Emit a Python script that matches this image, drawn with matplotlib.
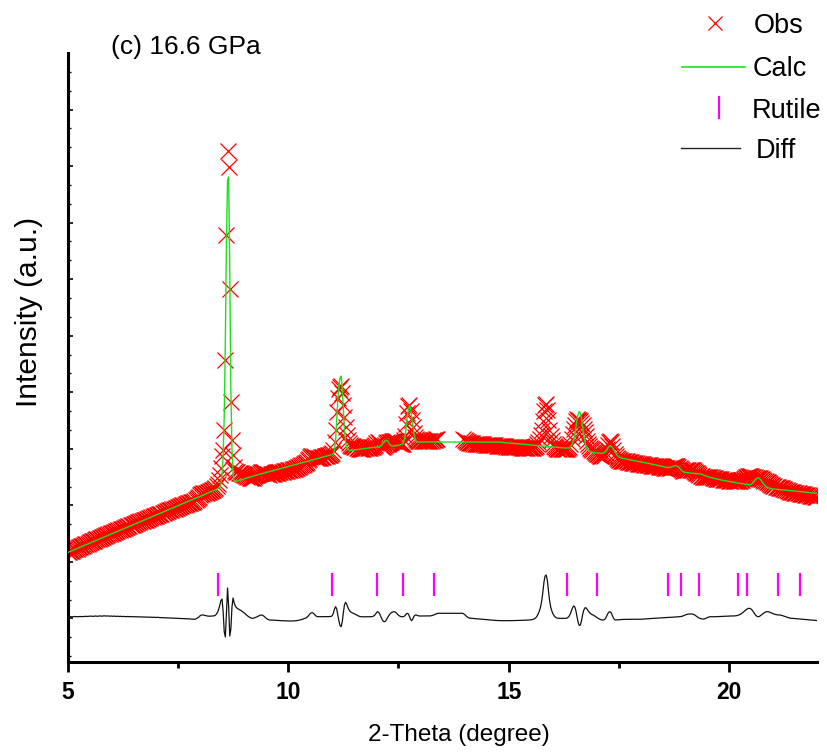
import numpy as np
import matplotlib
matplotlib.use("Agg")
import matplotlib.pyplot as plt
from matplotlib.ticker import MultipleLocator
from matplotlib.lines import Line2D

plt.rcParams['font.family'] = ['Liberation Sans', 'DejaVu Sans']

# ---------------------------------------------------------------------------
# Refinement data: 2-theta grid (start, step), calculated profile and the
# observed-minus-calculated residual (arbitrary intensity units).
# ---------------------------------------------------------------------------
two_theta_start = 5.0
two_theta_step = 0.025

calc = [
    122.5, 123.0, 123.4, 123.9, 124.4, 124.8, 125.3, 125.8, 126.2, 126.7, 127.2, 127.6, 128.1, 128.6, 129.0, 129.5, 130.0, 130.4, 130.9, 131.4,
    131.9, 132.3, 132.8, 133.3, 133.7, 134.2, 134.7, 135.1, 135.6, 136.1, 136.5, 137.0, 137.5, 137.9, 138.4, 138.9, 139.3, 139.8, 140.3, 140.7,
    141.2, 141.7, 142.1, 142.6, 143.1, 143.5, 144.0, 144.5, 144.9, 145.4, 145.9, 146.3, 146.8, 147.3, 147.7, 148.2, 148.7, 149.1, 149.6, 150.1,
    150.6, 151.0, 151.5, 152.0, 152.4, 152.9, 153.4, 153.8, 154.3, 154.8, 155.2, 155.7, 156.2, 156.6, 157.1, 157.6, 158.0, 158.5, 159.0, 159.4,
    159.9, 160.4, 160.8, 161.3, 161.8, 162.2, 162.7, 163.2, 163.6, 164.1, 164.6, 165.0, 165.5, 166.0, 166.4, 166.9, 167.4, 167.8, 168.3, 168.8,
    169.3, 169.7, 170.2, 170.7, 171.1, 171.6, 172.1, 172.5, 173.0, 173.5, 173.9, 174.4, 174.9, 175.3, 175.8, 176.3, 176.7, 177.2, 177.7, 178.1,
    178.6, 179.1, 179.5, 180.0, 180.5, 180.9, 181.4, 181.9, 182.3, 182.8, 183.3, 183.7, 184.2, 184.7, 185.1, 185.6, 186.1, 187.0, 188.0, 191.0,
    201.0, 220.0, 260.0, 335.0, 435.0, 495.0, 498.0, 405.0, 285.0, 225.0, 201.0, 194.0, 193.5, 193.8, 194.1, 194.5, 194.8, 195.1, 195.5, 195.8,
    196.1, 196.5, 196.8, 197.1, 197.5, 197.8, 198.1, 198.5, 198.8, 199.1, 199.5, 199.8, 200.1, 200.5, 200.8, 201.1, 201.4, 201.7, 202.0, 202.3,
    202.6, 202.9, 203.2, 203.5, 203.8, 204.1, 204.4, 204.7, 205.0, 205.3, 205.6, 205.9, 206.2, 206.5, 206.8, 207.1, 207.4, 207.7, 208.0, 208.3,
    208.6, 208.9, 209.2, 209.5, 209.8, 210.1, 210.4, 210.7, 211.0, 211.3, 211.6, 211.9, 212.2, 212.5, 212.8, 213.1, 213.4, 213.7, 214.0, 214.3,
    214.6, 214.9, 215.2, 215.5, 215.8, 216.1, 216.4, 216.7, 217.0, 217.3, 217.6, 217.9, 218.2, 218.5, 218.8, 219.1, 219.4, 219.7, 220.0, 220.2,
    220.5, 221.5, 225.0, 235.0, 255.0, 275.0, 290.0, 297.0, 299.0, 287.0, 266.0, 246.0, 233.0, 227.5, 225.5, 224.8, 224.6, 224.7, 224.8, 224.9,
    225.0, 225.2, 225.3, 225.5, 225.6, 225.8, 225.9, 226.1, 226.2, 226.4, 226.5, 226.7, 226.8, 227.0, 227.1, 227.3, 227.4, 227.6, 227.7, 227.9,
    228.0, 228.1, 228.2, 228.4, 229.0, 230.2, 231.8, 233.5, 234.6, 235.0, 234.2, 232.5, 230.8, 229.6, 229.0, 228.9, 229.0, 229.2, 229.4, 229.6,
    229.8, 230.0, 230.2, 230.5, 231.0, 234.0, 238.0, 248.0, 258.0, 266.0, 270.0, 267.0, 259.0, 250.0, 242.0, 236.5, 234.0, 233.2, 233.0, 233.0,
    233.0, 233.0, 233.0, 233.0, 233.0, 233.0, 233.0, 233.0, 233.0, 233.0, 233.0, 233.0, 233.0, 233.0, 233.0, 233.0, 233.0, 233.0, 233.0, 233.0,
    233.0, 233.0, 233.0, 233.0, 233.0, 233.0, 233.0, 233.0, 233.0, 233.0, 233.0, 233.0, 233.0, 233.0, 233.0, 233.0, 233.0, 233.0, 233.0, 233.0,
    233.0, 233.0, 233.0, 233.0, 233.0, 233.0, 233.0, 233.0, 233.0, 233.0, 233.0, 233.0, 233.0, 233.0, 233.0, 233.0, 233.0, 233.0, 233.0, 233.0,
    233.0, 233.0, 233.0, 233.0, 233.0, 233.0, 233.0, 233.0, 233.0, 233.0, 233.0, 232.9, 232.8, 232.7, 232.6, 232.5, 232.4, 232.3, 232.2, 232.1,
    232.0, 231.9, 231.8, 231.7, 231.6, 231.5, 231.4, 231.3, 231.2, 231.1, 231.0, 230.9, 230.8, 230.7, 230.6, 230.5, 230.4, 230.3, 230.2, 230.1,
    230.0, 229.9, 229.8, 229.7, 229.6, 229.5, 229.4, 229.3, 229.2, 229.1, 229.0, 228.9, 228.8, 228.7, 228.6, 228.5, 228.4, 228.3, 228.2, 228.1,
    228.0, 227.9, 227.8, 227.7, 227.6, 227.5, 227.4, 227.3, 227.2, 227.1, 227.0, 227.0, 227.0, 227.0, 227.0, 227.0, 228.0, 230.0, 232.0, 235.0,
    240.0, 248.0, 256.0, 261.0, 263.5, 262.0, 256.0, 248.0, 240.0, 234.0, 229.5, 226.5, 225.0, 224.0, 223.5, 223.0, 222.7, 222.4, 222.2, 222.1,
    222.0, 221.9, 221.8, 221.7, 221.7, 221.8, 222.0, 222.6, 223.5, 225.0, 227.0, 228.5, 229.0, 228.6, 227.5, 225.8, 224.0, 222.0, 220.3, 219.0,
    218.0, 217.4, 217.0, 216.7, 216.5, 216.3, 216.1, 215.9, 215.7, 215.5, 215.2, 214.9, 214.7, 214.5, 214.3, 214.1, 213.9, 213.7, 213.5, 213.3,
    213.2, 213.0, 212.7, 212.5, 212.3, 212.0, 211.8, 211.6, 211.3, 211.1, 210.8, 210.6, 210.4, 210.1, 209.9, 209.7, 209.4, 209.2, 209.0, 208.7,
    208.4, 208.1, 207.8, 207.6, 207.5, 207.5, 207.6, 207.8, 208.1, 208.6, 209.0, 209.3, 209.3, 208.8, 208.0, 206.8, 205.5, 204.4, 203.5, 203.0,
    202.6, 202.4, 202.3, 202.2, 202.1, 202.0, 201.9, 201.8, 201.7, 201.6, 201.5, 201.4, 201.3, 201.2, 201.0, 200.7, 200.3, 199.8, 199.4, 199.0,
    198.6, 198.2, 197.9, 197.6, 197.3, 197.0, 196.7, 196.5, 196.2, 196.0, 195.7, 195.5, 195.2, 195.0, 194.7, 194.5, 194.3, 194.1, 193.9, 193.7,
    193.5, 193.3, 193.1, 192.9, 192.8, 192.6, 192.4, 192.2, 192.0, 191.8, 191.7, 191.5, 191.3, 191.1, 190.9, 190.7, 190.5, 190.4, 190.3, 190.3,
    190.8, 191.6, 193.0, 194.4, 195.6, 196.6, 197.1, 196.9, 196.0, 194.6, 193.0, 191.3, 190.0, 188.8, 188.0, 187.4, 187.0, 186.6, 186.3, 186.1,
    186.0, 185.9, 185.8, 185.7, 185.6, 185.5, 185.4, 185.3, 185.2, 185.1, 185.0, 184.9, 184.8, 184.7, 184.6, 184.5, 184.3, 184.2, 184.1, 184.0,
    183.9, 183.8, 183.7, 183.5, 183.4, 183.3, 183.2, 183.1, 183.0, 182.8, 182.7, 182.6, 182.5, 182.4, 182.3, 182.1, 182.0, 181.9, 181.8, 181.7,
    181.6,
]

residual = [
    0.3, 0.2, 0.4, 0.3, 0.1, 0.3, 0.5, 0.4, 0.2, 0.3, 0.4, 0.6, 0.5, 0.3, 0.4, 0.6, 0.7, 0.5, 0.6, 0.8,
    0.7, 0.9, 0.8, 0.6, 0.8, 1.0, 0.9, 0.7, 0.9, 1.1, 1.0, 0.8, 1.0, 1.2, 1.0, 0.9, 1.1, 1.0, 0.8, 1.0,
    0.9, 0.7, 0.9, 0.8, 0.6, 0.8, 0.7, 0.5, 0.7, 0.6, 0.4, 0.6, 0.5, 0.3, 0.5, 0.4, 0.3, 0.5, 0.4, 0.2,
    0.4, 0.3, 0.1, 0.3, 0.2, 0.0, 0.2, 0.1, -0.1, 0.1, 0.0, -0.2, 0.0, -0.1, -0.3, -0.1, -0.2, -0.4, -0.2, -0.3,
    -0.5, -0.3, -0.4, -0.6, -0.5, -0.7, -0.6, -0.8, -0.7, -0.9, -0.8, -1.0, -0.9, -1.1, -1.0, -1.2, -1.1, -1.3, -1.2, -1.4,
    -1.3, -1.5, -1.4, -1.6, -1.5, -1.7, -1.6, -1.8, -1.7, -1.9, -1.8, -2.0, -2.1, -2.2, -2.3, -2.3, -2.0, -1.5, -0.8, 0.0,
    1.2, 1.8, 2.0, 2.0, 1.7, 1.3, 1.0, 0.9, 0.8, 0.8, 0.9, 1.0, 1.0, 1.2, 1.8, 3.0, 5.0, 8.0, 12.0, 16.5,
    18.0, 5.0, -15.0, -20.0, 5.0, 29.0, 10.0, -19.0, -12.0, 10.0, 19.0, 14.0, 11.0, 9.5, 8.5, 7.8, 7.2, 6.6, 5.8, 5.0,
    4.2, 3.2, 2.2, 1.2, 0.4, -0.3, -0.9, -1.3, -1.3, -1.0, -0.6, -0.2, 0.3, 0.9, 1.5, 1.9, 2.0, 1.6, 0.8, -0.2,
    -1.2, -2.0, -2.6, -3.0, -3.1, -3.0, -3.1, -3.2, -3.3, -3.3, -3.4, -3.5, -3.5, -3.6, -3.7, -3.7, -3.8, -3.8, -3.9, -3.9,
    -4.0, -4.0, -4.0, -4.0, -4.0, -4.0, -3.9, -3.8, -3.6, -3.4, -3.2, -2.9, -2.6, -2.2, -1.8, -1.4, -1.0, -0.3, 0.8, 2.2,
    3.5, 4.2, 4.3, 3.6, 2.4, 1.2, 0.5, 0.3, 0.3, 0.2, 0.3, 0.3, 0.2, 0.3, 0.4, 0.3, 0.3, 0.4, 0.5, 0.6,
    1.5, 4.0, 8.0, 10.3, 8.0, 2.0, -4.0, -8.5, -9.7, -5.0, 4.0, 12.0, 14.7, 13.0, 10.0, 7.5, 5.8, 4.8, 4.2, 3.7,
    3.2, 2.6, 2.0, 1.4, 0.9, 0.5, 0.3, 0.2, 0.2, 0.3, 0.3, 0.2, 0.3, 0.3, 0.2, 0.3, 0.4, 0.7, 1.4, 2.5,
    4.2, 5.3, 4.8, 3.0, 0.5, -2.0, -3.8, -4.7, -4.4, -3.0, -1.0, 1.0, 2.6, 3.8, 4.6, 5.1, 5.3, 5.0, 4.2, 3.0,
    1.8, 1.0, 0.5, 0.3, 0.3, 0.6, 1.5, 2.8, 3.7, 3.0, 0.5, -2.5, -3.7, -2.0, 0.5, 1.8, 2.0, 1.6, 1.2, 1.0,
    1.0, 0.9, 0.9, 1.0, 1.0, 1.1, 1.0, 0.9, 1.0, 1.1, 1.3, 1.6, 2.0, 2.5, 3.0, 3.5, 3.7, 3.7, 3.7, 3.7,
    3.7, 3.7, 3.7, 3.7, 3.7, 3.7, 3.7, 3.7, 3.7, 3.7, 3.7, 3.7, 3.7, 3.7, 3.7, 3.7, 3.7, 3.7, 3.7, 3.3,
    2.5, 1.4, 0.4, -0.4, -0.9, -1.2, -1.3, -1.4, -1.5, -1.6, -1.7, -1.8, -1.9, -2.0, -2.1, -2.2, -2.3, -2.4, -2.5, -2.6,
    -2.7, -2.8, -2.9, -3.0, -3.1, -3.2, -3.3, -3.3, -3.4, -3.5, -3.5, -3.6, -3.6, -3.7, -3.7, -3.7, -3.7, -3.7, -3.7, -3.7,
    -3.7, -3.7, -3.6, -3.6, -3.6, -3.5, -3.5, -3.5, -3.4, -3.4, -3.4, -3.3, -3.3, -3.3, -3.2, -3.2, -3.1, -3.1, -3.0, -3.0,
    -2.9, -2.7, -2.4, -2.0, -1.3, -0.2, 1.5, 3.8, 6.5, 10.5, 16.5, 25.0, 35.0, 41.0, 42.0, 37.0, 27.0, 17.0, 10.5, 6.5,
    3.5, 1.5, 0.2, -0.6, -1.1, -1.3, -1.4, -1.4, -1.4, -1.4, -1.4, -1.4, -1.3, -1.0, -0.2, 1.2, 3.5, 6.5, 9.5, 11.0,
    10.0, 6.0, 0.0, -5.5, -8.5, -8.0, -4.0, 2.0, 6.5, 9.0, 9.3, 8.0, 6.3, 4.8, 3.6, 2.8, 2.2, 1.8, 1.0, 0.2,
    -0.6, -1.3, -1.9, -2.4, -2.8, -3.0, -3.0, -2.4, -1.0, 1.2, 3.5, 5.0, 5.3, 4.0, 1.5, -1.0, -2.5, -3.0, -2.9, -2.7,
    -2.6, -2.5, -2.5, -2.4, -2.4, -2.4, -2.3, -2.3, -2.3, -2.3, -2.3, -2.3, -2.2, -2.3, -2.3, -2.2, -2.3, -2.2, -2.3, -2.3,
    -2.2, -2.1, -2.1, -2.0, -1.9, -1.9, -1.8, -1.7, -1.6, -1.6, -1.5, -1.4, -1.3, -1.3, -1.2, -1.1, -1.0, -1.0, -0.9, -0.8,
    -0.8, -0.7, -0.6, -0.6, -0.5, -0.4, -0.4, -0.3, -0.2, -0.2, -0.1, 0.0, 0.0, 0.1, 0.2, 0.3, 0.3, 0.6, 1.0, 1.5,
    2.0, 2.4, 2.7, 2.9, 3.0, 3.0, 3.0, 2.8, 2.4, 1.8, 1.0, 0.2, -0.6, -1.2, -1.6, -1.9, -2.0, -2.0, -1.7, -1.2,
    -0.7, -0.2, 0.2, 0.3, 0.3, 0.2, 0.2, 0.3, 0.3, 0.4, 0.4, 0.5, 0.5, 0.6, 0.6, 0.7, 0.7, 0.8, 0.8, 0.9,
    0.9, 1.0, 1.0, 1.0, 1.0, 1.1, 1.2, 1.4, 1.7, 2.1, 2.6, 3.3, 4.1, 5.0, 6.0, 7.0, 7.8, 8.4, 8.7, 8.5,
    7.8, 6.6, 5.0, 3.3, 1.8, 0.8, 0.3, 0.4, 1.0, 1.9, 2.9, 3.8, 4.5, 5.0, 5.3, 5.3, 5.1, 4.7, 4.2, 3.7,
    3.2, 2.8, 2.5, 2.3, 2.1, 2.0, 2.0, 1.8, 1.5, 1.1, 0.7, 0.3, -0.1, -0.5, -0.8, -1.1, -1.3, -1.3, -1.4, -1.5,
    -1.6, -1.7, -1.8, -1.9, -2.0, -2.1, -2.2, -2.3, -2.4, -2.5, -2.6, -2.7, -2.8, -2.9, -3.0, -3.1, -3.2, -3.3, -3.4, -3.5,
    -3.6,
]

# 2-theta range left out of the refinement (no observed points drawn there)
excluded_region = (13.39, 13.96)

# Rutile reflection positions (2-theta, degree)
rutile_positions = [8.40, 11.00, 12.01, 12.60, 13.31, 16.32, 17.00,
                    18.61, 18.91, 19.32, 20.21, 20.40, 21.11, 21.61]

x_ticks = [5, 10, 15, 20]
x_tick_labels = ["5", "10", "15", "20"]

# ---------------------------------------------------------------------------
calc = np.array(calc)
residual = np.array(residual)
two_theta = two_theta_start + two_theta_step * np.arange(len(calc))
obs = calc + residual
keep = (two_theta < excluded_region[0]) | (two_theta > excluded_region[1])

diff_offset = 58.0
tick_row = (79.0, 102.0)

W, H = 827, 753
fig = plt.figure(figsize=(W / 100, H / 100), dpi=100)
ax = fig.add_axes([67.7 / W, 1 - 662 / H, (817.4 - 67.7) / W, (662 - 53) / H])

RED = '#ff0000'
GREEN = '#1ee01e'
MAGENTA = '#ff00ff'

ax.plot(two_theta[keep], obs[keep], linestyle='none', marker='x',
        markersize=11.5, markeredgewidth=0.9, color=RED, zorder=2)
ax.plot(two_theta, calc, color=GREEN, lw=1.0, zorder=3)
ax.plot(two_theta, residual + diff_offset, color='#111111', lw=0.9, zorder=3)
ax.vlines(rutile_positions, tick_row[0], tick_row[1], color=MAGENTA, lw=1.6, zorder=3)

ax.set_xlim(5, 22)
ax.set_ylim(13, 622)

for side in ('top', 'right'):
    ax.spines[side].set_visible(False)
for side in ('left', 'bottom'):
    ax.spines[side].set_linewidth(2.2)

ax.set_xticks(x_ticks)
ax.set_xticklabels(x_tick_labels, fontweight='bold', fontsize=16.5)
ax.xaxis.set_minor_locator(MultipleLocator(2.5))
ax.tick_params(axis='x', which='major', direction='out', length=7.5, width=2.0, pad=6)
ax.tick_params(axis='x', which='minor', direction='out', length=4, width=2.0)

ax.yaxis.set_major_locator(MultipleLocator(56.55))
ax.yaxis.set_minor_locator(MultipleLocator(18.85))
ax.tick_params(axis='y', which='major', direction='in', length=3.5, width=1.2, labelleft=False)
ax.tick_params(axis='y', which='minor', direction='in', length=2.5, width=1.0)


def fig_xy(px, py):
    return px / W, 1 - py / H


fig.text(*fig_xy(459, 741), "2-Theta (degree)", ha='center', va='baseline', fontsize=17.5)
fig.text(*fig_xy(29, 312), "Intensity (a.u.)", ha='center', va='center', rotation=90, fontsize=21.5)
fig.text(*fig_xy(111, 54), "(c) 16.6 GPa", ha='left', va='baseline', fontsize=19)

# Legend entries
leg_fs = 19.5
x0, y0 = fig_xy(715, 23)
fig.add_artist(Line2D([x0], [y0], marker='x', markersize=10, markeredgewidth=0.9,
                      color=RED, linestyle='none', transform=fig.transFigure))
fig.text(*fig_xy(754, 33), "Obs", ha='left', va='baseline', fontsize=leg_fs)

xa, ya = fig_xy(682, 67)
xb, _ = fig_xy(745, 67)
fig.add_artist(Line2D([xa, xb], [ya, ya], color=GREEN, lw=1.2, transform=fig.transFigure))
fig.text(*fig_xy(753, 76.5), "Calc", ha='left', va='baseline', fontsize=leg_fs)

xr, yr0 = fig_xy(719, 97)
_, yr1 = fig_xy(719, 118)
fig.add_artist(Line2D([xr, xr], [yr0, yr1], color=MAGENTA, lw=1.6, transform=fig.transFigure))
fig.text(*fig_xy(751.5, 117.5), "Rutile", ha='left', va='baseline', fontsize=leg_fs)

xa, ya = fig_xy(681, 148)
xb, _ = fig_xy(740, 148)
fig.add_artist(Line2D([xa, xb], [ya, ya], color='#222222', lw=1.0, transform=fig.transFigure))
fig.text(*fig_xy(756, 158), "Diff", ha='left', va='baseline', fontsize=leg_fs)

fig.savefig("out.png", dpi=100)
